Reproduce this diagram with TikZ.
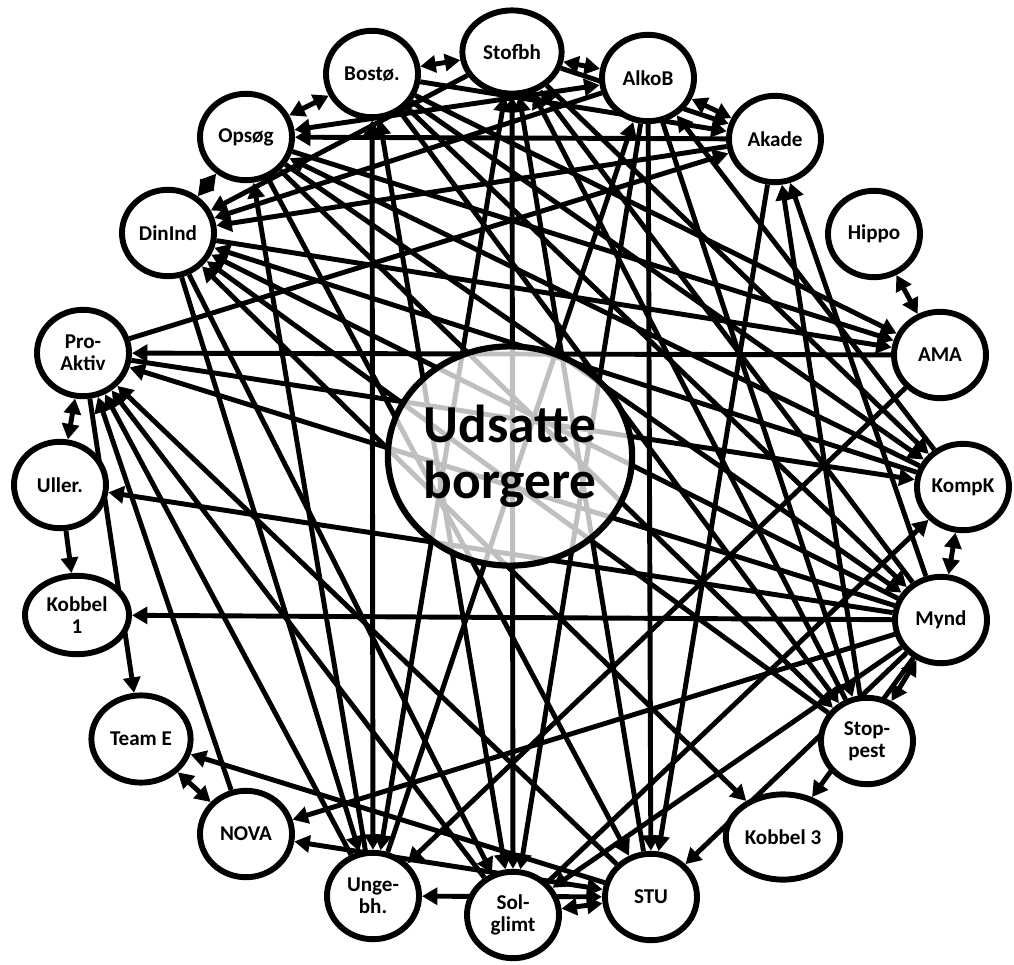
\documentclass[tikz,border=0pt]{standalone}
\usepackage{fontspec}
\setmainfont{Carlito}
\usetikzlibrary{shapes.geometric, arrows.meta, backgrounds}

\begin{document}
\begin{tikzpicture}[
    x=0.025cm, y=-0.025cm,
    every node/.style={align=center},
    agent/.style={ellipse, draw=black, line width=4.2pt, fill=white, minimum width=2.3cm, minimum height=2.16cm, inner sep=0pt, font=\fontsize{15}{15.5}\selectfont\bfseries},
    hub/.style={ellipse, draw=black, line width=4.4pt, fill=white, fill opacity=0.75, text opacity=1, minimum width=5.98cm, minimum height=5.48cm, inner sep=0pt, font=\fontsize{38}{40}\selectfont\bfseries},
    arrow/.style={line width=3.5pt, -{Triangle[length=11pt,width=12pt]}},
    both/.style={line width=3.5pt, {Triangle[length=11pt,width=12pt]}-{Triangle[length=11pt,width=12pt]}}
]
\useasboundingbox (0,0) rectangle (1014,965);

% Top of the ring
\node (stofbh) [agent, minimum width=2.48cm, minimum height=2.08cm] at (512,52) {Stofbh};
\node (bosto) [agent] at (372,74) {Bostø.};
\node (alkob) [agent] at (648,78) {AlkoB};
\node (opsog) [agent] at (246,137) {Opsøg};
\node (akade) [agent] at (775,139) {Akade};
\node (dinind) [agent] at (168,233) {DinInd};
\node (hippo) [agent] at (874,234) {Hippo};

% Left and right side
\node (proaktiv) [agent] at (83,353) {Pro-\\Aktiv};
\node (ama) [agent] at (940,355) {AMA};
\node (uller) [agent] at (60,485) {Uller.};
\node (kompk) [agent] at (963,487) {KompK};
\node (kobbel1) [agent, minimum width=2.6cm, minimum height=1.96cm] at (77,615) {Kobbel\\1};
\node (mynd) [agent] at (941,620) {Mynd};
\node (teame) [agent, minimum width=2.48cm, minimum height=2.18cm] at (141,739) {Team E};
\node (stoppest) [agent] at (867,741) {Stop-\\pest};

% Bottom of the ring
\node (nova) [agent] at (246,834) {NOVA};
\node (kobbel3) [agent, minimum width=2.86cm, minimum height=2.13cm] at (783,837) {Kobbel 3};
\node (ungebh) [agent] at (373,896) {Unge-\\bh.};
\node (stu) [agent] at (651,897) {STU};
\node (solglimt) [agent] at (513,915) {Sol-\\glimt};

% Arrows
\begin{scope}[on background layer]
\draw [both] (bosto) -- (stofbh);
\draw [both] (stofbh) -- (alkob);
\draw [both] (alkob) -- (akade);
\draw [both] (opsog) -- (bosto);
\draw [both] (opsog) -- (dinind);
\draw [both] (opsog) -- (alkob);
\draw [both] (hippo) -- (ama);
\draw [both] (kompk) -- (mynd);
\draw [both] (mynd) -- (stoppest);
\draw [both] (proaktiv) -- (uller);
\draw [both] (teame) -- (nova);
\draw [both] (solglimt) -- (stu);
\draw [both] (ungebh) -- (stu);
\draw [both] (nova) -- (stu);
\draw [both] (dinind) -- (kobbel3);
\draw [both] (ungebh) -- (bosto);
\draw [both] (ungebh) -- (stofbh);
\draw [both] (solglimt) -- (stofbh);
\draw [both] (solglimt) -- (bosto);
\draw [arrow] (akade) -- (dinind);
\draw [arrow] (alkob) -- (dinind);
\draw [arrow] (kompk) -- (dinind);
\draw [arrow] (mynd) -- (dinind);
\draw [arrow] (stoppest) -- (dinind);
\draw [arrow] (stofbh) -- (dinind);
\draw [arrow] (dinind) -- (ama);
\draw [arrow] (dinind) -- (ungebh);
\draw [arrow] (dinind) -- (solglimt);
\draw [arrow] (akade) -- (opsog);
\draw [arrow] (kompk) -- (opsog);
\draw [arrow] (ungebh) -- (opsog);
\draw [arrow] (opsog) -- (ama);
\draw [arrow] (opsog) -- (mynd);
\draw [arrow] (opsog) -- (stoppest);
\draw [arrow] (opsog) -- (stu);
\draw [arrow] (ama) -- (proaktiv);
\draw [arrow] (mynd) -- (proaktiv);
\draw [arrow] (stu) -- (proaktiv);
\draw [arrow] (solglimt) -- (proaktiv);
\draw [arrow] (ungebh) -- (proaktiv);
\draw [arrow] (nova) -- (proaktiv);
\draw [arrow] (proaktiv) -- (kompk);
\draw [arrow] (proaktiv) -- (akade);
\draw [arrow] (proaktiv) -- (teame);
\draw [arrow] (mynd) -- (uller);
\draw [arrow] (uller) -- (kobbel1);
\draw [arrow] (mynd) -- (kobbel1);
\draw [arrow] (stu) -- (teame);
\draw [arrow] (mynd) -- (nova);
\draw [arrow] (bosto) -- (akade);
\draw [arrow] (bosto) -- (ama);
\draw [arrow] (bosto) -- (kompk);
\draw [arrow] (bosto) -- (mynd);
\draw [arrow] (bosto) -- (stoppest);
\draw [arrow] (stu) -- (stofbh);
\draw [arrow] (stoppest) -- (stofbh);
\draw [arrow] (mynd) -- (stofbh);
\draw [arrow] (stofbh) -- (akade);
\draw [arrow] (stofbh) -- (kompk);
\draw [arrow] (ungebh) -- (alkob);
\draw [arrow] (kompk) -- (alkob);
\draw [arrow] (alkob) -- (solglimt);
\draw [arrow] (alkob) -- (stu);
\draw [arrow] (alkob) -- (stoppest);
\draw [arrow] (mynd) -- (akade);
\draw [arrow] (stoppest) -- (akade);
\draw [arrow] (akade) -- (stu);
\draw [arrow] (ama) -- (ungebh);
\draw [arrow] (solglimt) -- (kompk);
\draw [arrow] (mynd) -- (solglimt);
\draw [arrow] (mynd) -- (stu);
\draw [arrow] (mynd) -- (kobbel3);
\end{scope}

% Centre
\node (udsatte) [hub] at (510,456) {Udsatte\\borgere};

\end{tikzpicture}
\end{document}
